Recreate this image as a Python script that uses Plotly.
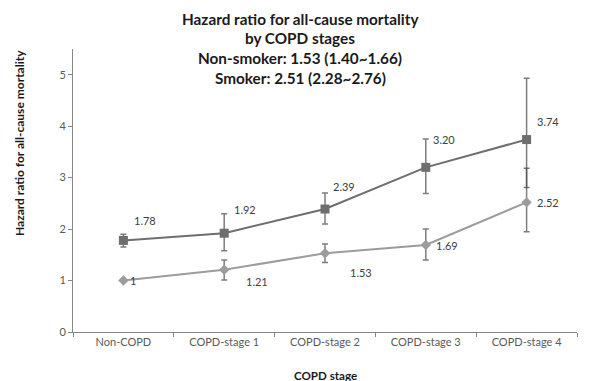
import plotly.graph_objects as go

# Categories and hazard ratios
stages = ["Non-COPD", "COPD-stage 1", "COPD-stage 2", "COPD-stage 3", "COPD-stage 4"]

smoker_hr = [1.78, 1.92, 2.39, 3.20, 3.74]
smoker_lo = [1.65, 1.58, 2.10, 2.69, 2.81]
smoker_hi = [1.90, 2.30, 2.70, 3.75, 4.93]

nonsmoker_hr = [1.00, 1.21, 1.53, 1.69, 2.52]
nonsmoker_lo = [1.00, 1.01, 1.35, 1.40, 1.95]
nonsmoker_hi = [1.00, 1.40, 1.71, 2.00, 3.18]

smoker_labels = ["1.78", "1.92", "2.39", "3.20", "3.74"]
nonsmoker_labels = ["1", "1.21", "1.53", "1.69", "2.52"]

title_lines = [
    "Hazard ratio for all-cause mortality",
    "by COPD stages",
    "Non-smoker: 1.53 (1.40~1.66)",
    "Smoker: 2.51 (2.28~2.76)",
]

FONT = "Lato, Open Sans, sans-serif"
W, H = 592, 381
ML, MR, MT, MB = 73, 15, 49, 49
plot_h = H - MT - MB
plot_w = W - ML - MR


def err(vals, lo, hi):
    plus = [h - v for v, h in zip(vals, hi)]
    minus = [v - l for v, l in zip(vals, lo)]
    return plus, minus


fig = go.Figure()

sp, sm = err(smoker_hr, smoker_lo, smoker_hi)
fig.add_trace(go.Scatter(
    x=stages, y=smoker_hr, mode="lines+markers", name="Smoker",
    line=dict(color="#6e6e6e", width=2),
    marker=dict(symbol="square", size=9, color="#6e6e6e"),
    error_y=dict(type="data", array=sp, arrayminus=sm, symmetric=False,
                 color="rgba(70,70,70,0.7)", thickness=1.5, width=3),
))

npl, nmi = err(nonsmoker_hr, nonsmoker_lo, nonsmoker_hi)
fig.add_trace(go.Scatter(
    x=stages, y=nonsmoker_hr, mode="lines+markers", name="Non-smoker",
    line=dict(color="#9c9c9c", width=2),
    marker=dict(symbol="diamond", size=8, color="#9c9c9c"),
    error_y=dict(type="data", array=npl, arrayminus=nmi, symmetric=False,
                 color="rgba(70,70,70,0.7)", thickness=1.5, width=3),
))

annotations = []

# value labels
smoker_shift = [(22, 20), (21, 24), (19, 23), (18, 28), (21, 18)]
nonsmoker_shift = [(10, 0), (33, -12), (36, -19), (21, 0), (21, 0)]
for cat, v, lab, (dx, dy) in zip(stages, smoker_hr, smoker_labels, smoker_shift):
    annotations.append(dict(x=cat, y=v, text=lab, showarrow=False, xshift=dx, yshift=dy,
                            font=dict(family=FONT, size=11, color="#404040")))
for cat, v, lab, (dx, dy) in zip(stages, nonsmoker_hr, nonsmoker_labels, nonsmoker_shift):
    annotations.append(dict(x=cat, y=v, text=lab, showarrow=False, xshift=dx, yshift=dy,
                            font=dict(family=FONT, size=11, color="#404040")))


def py(pix):
    return (H - MB - pix) / plot_h


def px(pix):
    return (pix - ML) / plot_w


# chart title, one annotation per line
for i, line in enumerate(title_lines):
    annotations.append(dict(xref="paper", yref="paper", x=px(300), y=py(19 + 19.5 * i),
                            xanchor="center", yanchor="middle", text="<b>%s</b>" % line, showarrow=False,
                            font=dict(family=FONT, size=15.3, color="#1a1a1a")))

# axis titles
annotations.append(dict(xref="paper", yref="paper", x=px(325), y=py(375),
                        xanchor="center", yanchor="middle", text="<b>COPD stage</b>", showarrow=False,
                        font=dict(family=FONT, size=11.6, color="#1a1a1a")))
annotations.append(dict(xref="paper", yref="paper", x=px(19), y=py(143),
                        xanchor="center", yanchor="middle", text="<b>Hazard ratio for all-cause mortality</b>",
                        textangle=-90, showarrow=False,
                        font=dict(family=FONT, size=12, color="#1a1a1a")))

fig.update_layout(
    width=W, height=H,
    margin=dict(l=ML, r=MR, t=MT, b=MB),
    paper_bgcolor="white", plot_bgcolor="white",
    showlegend=False,
    annotations=annotations,
    xaxis=dict(type="category", tickson="boundaries", showgrid=False, zeroline=False,
               showline=True, linecolor="#868686", linewidth=1,
               ticks="outside", ticklen=4, tickcolor="#868686",
               tickfont=dict(family=FONT, size=11, color="#595959"),
               range=[-0.5, 4.5]),
    yaxis=dict(range=[0, 5.5], tickvals=[0, 1, 2, 3, 4, 5], showgrid=False, zeroline=False,
               showline=True, linecolor="#868686", linewidth=1,
               ticks="outside", ticklen=4, tickcolor="#868686",
               tickfont=dict(family=FONT, size=11, color="#595959")),
)

fig.write_html("out.html")
